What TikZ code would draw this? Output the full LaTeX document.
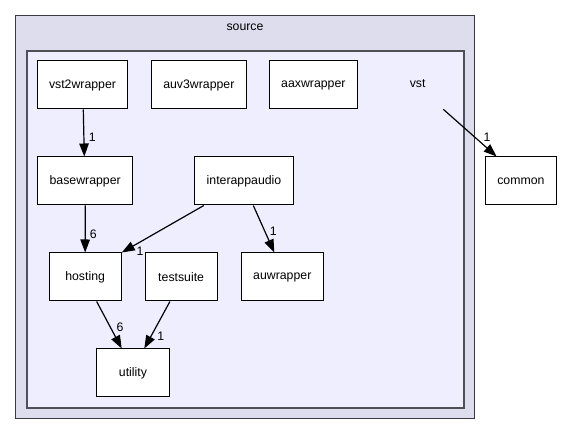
\documentclass[tikz,border=0pt]{standalone}
\usepackage{fontspec}
\setmainfont{Liberation Sans}
\usetikzlibrary{arrows.meta}
\definecolor{outerfill}{HTML}{DDDDEE}
\definecolor{innerfill}{HTML}{EEEEFF}
\definecolor{innerline}{HTML}{4F4F58}
\definecolor{outerline}{HTML}{3A3A40}
\begin{document}
\begin{tikzpicture}[x=1pt,y=-1pt,
  dirbox/.style={draw=black, fill=white, line width=1pt, minimum height=48pt, inner sep=0pt, font=\fontsize{12.3}{14}\selectfont},
  dep/.style={draw=black, line width=1.2pt, -{Triangle[length=13pt,width=9.5pt]}},
  lbl/.style={inner sep=0pt, font=\fontsize{12.3}{14}\selectfont},
  clabel/.style={inner sep=0pt, font=\fontsize{12.3}{14}\selectfont}]
\useasboundingbox (0,0) rectangle (563,435);
% clusters
\draw[fill=outerfill, draw=outerline, line width=1pt] (15.5,15.7) rectangle (474.3,419);
\node[clabel] (srclbl) at (245,27) {source};
\draw[fill=innerfill, draw=innerline, line width=2pt] (26.7,51.2) rectangle (463.7,407.7);
\node[clabel] (vstlbl) at (417.7,84) {vst};
\coordinate (vstout) at (443.3,109.3);
% nodes
\node[dirbox, minimum width=89.6pt] (vst2) at (82.5,85) {vst2wrapper};
\node[dirbox, minimum width=95.7pt] (auv3) at (198.85,85) {auv3wrapper};
\node[dirbox, minimum width=87.3pt] (aax) at (313.35,85) {aaxwrapper};
\node[dirbox, minimum width=95pt] (base) at (85.2,181) {basewrapper};
\node[dirbox, minimum width=99.4pt] (iaa) at (244,181) {interappaudio};
\node[dirbox, minimum width=71.7pt] (common) at (520.85,181) {common};
\node[dirbox, minimum width=72.3pt] (hosting) at (85.15,277) {hosting};
\node[dirbox, minimum width=72.3pt] (testsuite) at (181.15,277) {testsuite};
\node[dirbox, minimum width=82pt] (auw) at (282.3,277) {auwrapper};
\node[dirbox, minimum width=72.6pt] (utility) at (133,373) {utility};
% edges
\draw[dep] ([xshift=0.8pt]vst2.south) -- ([xshift=-0.9pt]base.north);
\draw[dep] (base.south) -- (hosting.north);
\draw[dep] ([xshift=10pt]iaa.south west) -- (hosting.north east);
\draw[dep] ([xshift=9.3pt]iaa.south) -- ([xshift=-8pt]auw.north);
\draw[dep] ([xshift=11.5pt]hosting.south) -- ([xshift=-11.3pt]utility.north);
\draw[dep] ([xshift=-11.2pt]testsuite.south) -- ([xshift=11.3pt]utility.north);
\draw[dep] (vstout) -- ([xshift=-24.2pt]common.north);
% edge labels
\node[lbl] (l1) at (92.3,137) {1};
\node[lbl] (l2) at (93.3,234) {6};
\node[lbl] (l3) at (140,251.7) {1};
\node[lbl] (l4) at (273.3,231.7) {1};
\node[lbl] (l5) at (120,327.7) {6};
\node[lbl] (l6) at (160.7,336) {1};
\node[lbl] (l7) at (487,137.7) {1};
\end{tikzpicture}
\end{document}
